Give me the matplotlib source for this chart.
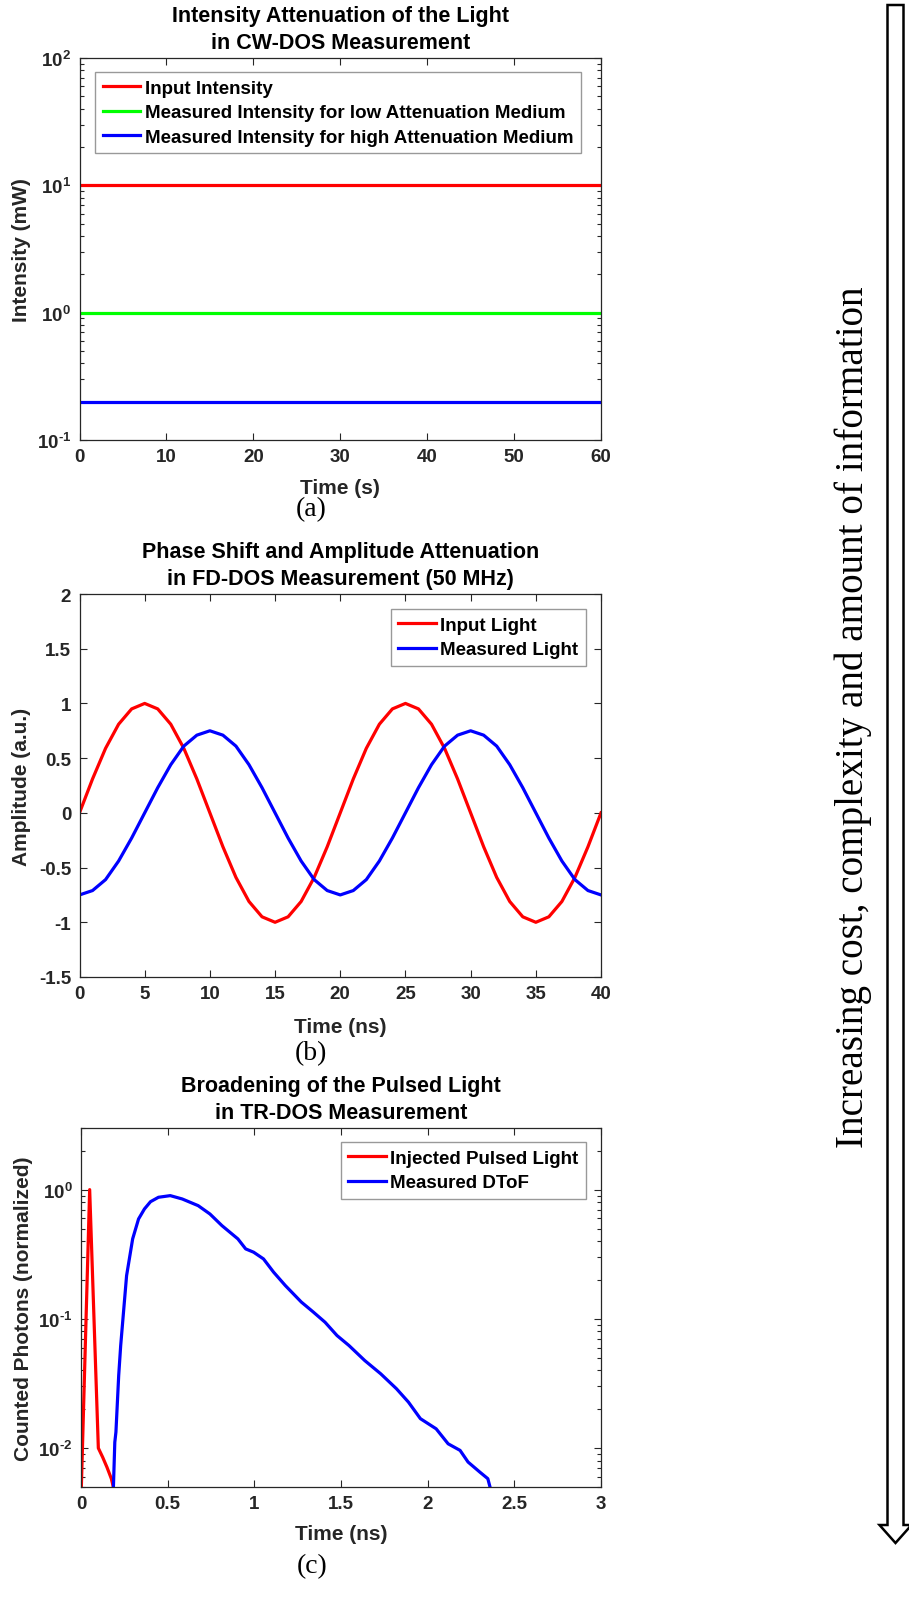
import numpy as np
import matplotlib
matplotlib.use('Agg')
import matplotlib.pyplot as plt
from matplotlib import ticker
from matplotlib.patches import Polygon

# ---- data ----
# (a) CW-DOS
cw_time = [0, 60]
cw_input = [10, 10]
cw_low = [1, 1]
cw_high = [0.2, 0.2]

# (b) FD-DOS, sampled every 1 ns
fd_time = list(range(41))
fd_input = [0, 0.31, 0.59, 0.81, 0.95, 1, 0.95, 0.81, 0.59, 0.31,
            0, -0.31, -0.59, -0.81, -0.95, -1, -0.95, -0.81, -0.59, -0.31,
            0, 0.31, 0.59, 0.81, 0.95, 1, 0.95, 0.81, 0.59, 0.31,
            0, -0.31, -0.59, -0.81, -0.95, -1, -0.95, -0.81, -0.59, -0.31, 0]
fd_measured = [-0.75, -0.71, -0.61, -0.44, -0.23, 0, 0.23, 0.44, 0.61, 0.71,
               0.75, 0.71, 0.61, 0.44, 0.23, 0, -0.23, -0.44, -0.61, -0.71,
               -0.75, -0.71, -0.61, -0.44, -0.23, 0, 0.23, 0.44, 0.61, 0.71,
               0.75, 0.71, 0.61, 0.44, 0.23, 0, -0.23, -0.44, -0.61, -0.71, -0.75]

# (c) TR-DOS
pulse_time = [0, 0.05, 0.1, 0.125, 0.15, 0.175, 0.2]
pulse_val = [0.004, 1, 0.01, 0.0085, 0.0071, 0.0058, 0.0042]
dtof_time = [0.186, 0.195, 0.2015, 0.2175, 0.229, 0.263, 0.298, 0.332, 0.366,
             0.401, 0.447, 0.515, 0.584, 0.676, 0.744, 0.813, 0.905, 0.950,
             0.996, 1.053, 1.111, 1.179, 1.271, 1.340, 1.408, 1.477, 1.546,
             1.637, 1.729, 1.820, 1.889, 1.958, 2.049, 2.118, 2.187, 2.233,
             2.301, 2.347, 2.365]
dtof_val = [0.0045, 0.0111, 0.0133, 0.0365, 0.0622, 0.216, 0.416, 0.593, 0.709,
            0.807, 0.873, 0.899, 0.847, 0.752, 0.648, 0.527, 0.416, 0.348,
            0.328, 0.291, 0.230, 0.181, 0.135, 0.113, 0.0942, 0.0743, 0.0622,
            0.0476, 0.0376, 0.0288, 0.0227, 0.0169, 0.0141, 0.0108, 0.0096, 0.0078,
            0.00652, 0.0058, 0.0047]

plt.rcParams['font.family'] = ['Liberation Sans', 'DejaVu Sans']
plt.rcParams['font.weight'] = 'bold'
plt.rcParams['axes.unicode_minus'] = False
plt.rcParams['mathtext.fontset'] = 'custom'
plt.rcParams['mathtext.rm'] = 'Liberation Sans:bold'
plt.rcParams['mathtext.bf'] = 'Liberation Sans:bold'
plt.rcParams['mathtext.default'] = 'bf'

W, H = 909, 1615
fig = plt.figure(figsize=(W / 100, H / 100), dpi=100)

TXT = '#262626'
LW = 2.3


def px_axes(left, top, right, bottom):
    return fig.add_axes([left / W, 1 - bottom / H, (right - left) / W, (bottom - top) / H])


def log_label(v, pos):
    e = int(round(np.log10(v)))
    if e < 0:
        return r'$10^{\text{-}%d}$' % (-e)
    return r'$10^{%d}$' % e


def style(ax):
    ax.tick_params(which='both', direction='in', top=True, right=True,
                   labelsize=13.5, colors=TXT, width=0.8, pad=6)
    ax.tick_params(which='major', length=5)
    ax.tick_params(which='minor', length=3)
    for s in ax.spines.values():
        s.set_color(TXT)
        s.set_linewidth(0.9)


def legend(ax, loc, anchor):
    leg = ax.legend(loc=loc, bbox_to_anchor=anchor, borderaxespad=0, fancybox=False,
                    edgecolor='0.5', fontsize=13.5, handlelength=2.0, handletextpad=0.25,
                    labelspacing=0.4, borderpad=0.4)
    leg.get_frame().set_linewidth(1.0)
    for t in leg.get_texts():
        t.set_color('black')


def labels(ax, title, xlab, ylab, xlab_y, ylab_x, tag, tag_y):
    ax.set_title(title, fontsize=15.5, fontweight='bold', pad=7, linespacing=1.42)
    ax.set_xlabel(xlab, fontsize=15, fontweight='bold', color=TXT, va='center')
    ax.set_ylabel(ylab, fontsize=15, fontweight='bold', color=TXT, va='center')
    ax.xaxis.set_label_coords(0.5, xlab_y)
    ax.yaxis.set_label_coords(ylab_x, 0.5)
    ax.text(0.444, tag_y, tag, transform=ax.transAxes, ha='center', va='center',
            fontsize=20, fontweight='normal', family=['Liberation Serif'])


# (a)
ax = px_axes(79.5, 59, 601, 441)
ax.semilogy(cw_time, cw_input, color='#ff0000', lw=LW, label='Input Intensity')
ax.semilogy(cw_time, cw_low, color='#00ff00', lw=LW, label='Measured Intensity for low Attenuation Medium')
ax.semilogy(cw_time, cw_high, color='#0000ff', lw=LW, label='Measured Intensity for high Attenuation Medium')
ax.set_xlim(0, 60)
ax.set_ylim(0.1, 100)
ax.set_xticks(range(0, 61, 10))
ax.yaxis.set_major_formatter(ticker.FuncFormatter(log_label))
ax.yaxis.set_minor_locator(ticker.LogLocator(base=10, subs=np.arange(2, 10), numticks=20))
ax.yaxis.set_minor_formatter(ticker.NullFormatter())
style(ax)
legend(ax, 'upper left', ((95 - 79.5) / 521.5, 1 - (73 - 59) / 382))
labels(ax, 'Intensity Attenuation of the Light\nin CW-DOS Measurement', 'Time (s)',
       'Intensity (mW)', -(488 - 441) / 382, (22 - 79.5) / 521.5, '(a)', -(510 - 441) / 382)

# (b)
ax = px_axes(79.5, 595, 601, 978)
ax.plot(fd_time, fd_input, color='#ff0000', lw=LW, label='Input Light')
ax.plot(fd_time, fd_measured, color='#0000ff', lw=LW, label='Measured Light')
ax.set_xlim(0, 40)
ax.set_ylim(-1.5, 2)
ax.set_xticks(range(0, 41, 5))
ax.set_yticks(np.arange(-1.5, 2.01, 0.5))
ax.yaxis.set_major_formatter(ticker.FormatStrFormatter('%g'))
style(ax)
legend(ax, 'upper right', ((586 - 79.5) / 521.5, 1 - (610 - 595) / 383))
labels(ax, 'Phase Shift and Amplitude Attenuation\nin FD-DOS Measurement (50 MHz)', 'Time (ns)',
       'Amplitude (a.u.)', -(1028 - 978) / 383, (22 - 79.5) / 521.5, '(b)', -(1054 - 978) / 383)

# (c)
ax = px_axes(81, 1129, 601, 1488)
ax.semilogy(pulse_time, pulse_val, color='#ff0000', lw=LW, label='Injected Pulsed Light')
ax.semilogy(dtof_time, dtof_val, color='#0000ff', lw=LW, label='Measured DToF')
ax.set_xlim(0, 3)
ax.set_ylim(0.005, 3)
ax.set_xticks(np.arange(0, 3.01, 0.5))
ax.xaxis.set_major_formatter(ticker.FormatStrFormatter('%g'))
ax.yaxis.set_major_locator(ticker.LogLocator(base=10, numticks=10))
ax.yaxis.set_major_formatter(ticker.FuncFormatter(log_label))
ax.yaxis.set_minor_locator(ticker.LogLocator(base=10, subs=np.arange(2, 10), numticks=20))
ax.yaxis.set_minor_formatter(ticker.NullFormatter())
style(ax)
legend(ax, 'upper right', ((586 - 81) / 520, 1 - (1143 - 1129) / 359))
labels(ax, 'Broadening of the Pulsed Light\nin TR-DOS Measurement', 'Time (ns)',
       'Counted Photons (normalized)', -(1535 - 1488) / 359, (24 - 81) / 520, '(c)', -(1567 - 1488) / 359)

# big arrow on the right
sl, sr, hl, hr, tip_x = 887.5, 903.5, 879.5, 911.5, 895.5
top, base, tip = 6, 1526, 1544
verts = [(sl, top), (sr, top), (sr, base), (hr, base), (tip_x, tip), (hl, base), (sl, base)]
verts = [(x / W, 1 - y / H) for x, y in verts]
fig.patches.append(Polygon(verts, closed=True, transform=fig.transFigure,
                           facecolor='white', edgecolor='black', lw=1.8))
fig.text(853 / W, 1 - 717 / H, 'Increasing cost, complexity and amount of information',
         rotation=90, ha='center', va='center', fontsize=28.2, fontweight='normal',
         family=['Liberation Serif'], color='black')

fig.savefig('out.png', dpi=100)
